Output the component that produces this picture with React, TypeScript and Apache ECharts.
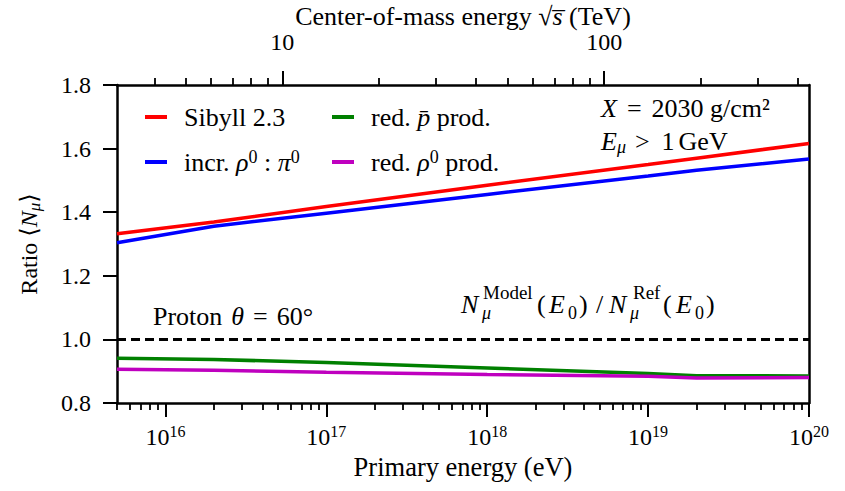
import React, { useEffect, useRef } from "react";
import * as echarts from "echarts";

// ---------- data ----------
const energiesEV = [5e15, 2e16, 1e17, 1e18, 1e19, 2e19, 1e20];
const sibyll23 = [1.332, 1.369, 1.418, 1.485, 1.55, 1.57, 1.616];
const incrRho0Pi0 = [1.304, 1.356, 1.397, 1.456, 1.514, 1.532, 1.567];
const redPbarProd = [0.941, 0.937, 0.927, 0.91, 0.893, 0.886, 0.885];
const redRho0Prod = [0.906, 0.903, 0.897, 0.89, 0.884, 0.879, 0.88];
const referenceRatio = 1.0;

const xMinEV = 5e15;
const xMaxEV = 1e20;
const bottomMajorExponents = [16, 17, 18, 19, 20];
const bottomMinorMultiples = [2, 3, 4, 5, 6, 7, 8, 9];
const topMajorTeV = [10, 100];
const topMinorTeV = [4, 5, 6, 7, 8, 9, 20, 30, 40, 50, 60, 70, 80, 90, 200, 300, 400];
const yMin = 0.8;
const yMax = 1.8;
const yStep = 0.2;
const protonMassEV = 0.938272e9;

const F = "Liberation Serif, DejaVu Serif, serif";
const FS = 24; // tick labels
const FT = 26; // titles, legend, annotations

const lg = (e: number) => Math.log10(e);
const teVToLogE = (t: number) => Math.log10(((t * 1e12) ** 2) / (2 * protonMassEV));

const bottomMinor: number[] = [];
for (let d = 15; d < 20; d++) {
  for (const m of bottomMinorMultiples) {
    const v = lg(m * Math.pow(10, d));
    if (v >= lg(xMinEV) - 1e-9 && v <= lg(xMaxEV) + 1e-9) bottomMinor.push(v);
  }
}

const K = "#000";
const richBase: any = {
  t: { fontFamily: F, fontSize: FS, lineHeight: 28, color: K },
  tsup: { fontFamily: F, fontSize: 16, lineHeight: 16, verticalAlign: "top", color: K },
  r: { fontFamily: F, fontSize: FT, lineHeight: 28, color: K },
  i: { fontFamily: F, fontSize: FT, fontStyle: "italic", lineHeight: 28, color: K },
  h: { fontFamily: F, fontSize: FT, lineHeight: 26, color: K },
  hi: { fontFamily: F, fontSize: FT, fontStyle: "italic", lineHeight: 26, color: K },
  sup: { fontFamily: F, fontSize: 18, lineHeight: 17, verticalAlign: "top", color: K },
  subi: { fontFamily: F, fontSize: 18, fontStyle: "italic", lineHeight: 22, verticalAlign: "bottom", color: K },
  gap: { width: 12 },
  s4: { width: 4 },
  s9: { width: 9 },
  s10: { width: 10 },
  s12: { width: 12 },
  y: { fontFamily: F, fontSize: FS, lineHeight: 28, color: K },
  yi: { fontFamily: F, fontSize: FS, fontStyle: "italic", lineHeight: 28, color: K },
  ysub: { fontFamily: F, fontSize: 17, fontStyle: "italic", lineHeight: 20, verticalAlign: "bottom", color: K },
};

// stacked-script annotation N^Model_mu(E_0) / N^Ref_mu(E_0): three lines with fixed-width tokens
const w = (n: number, s: any = {}) => ({ width: n, align: "left", ...s });
const L1 = { fontFamily: F, fontSize: 19, lineHeight: 9, color: K };
const L2 = { fontFamily: F, fontSize: FT, lineHeight: 14, color: K };
const L2i = { ...L2, fontStyle: "italic" };
const L3 = { fontFamily: F, fontSize: 18, lineHeight: 3, color: K };
const L3i = { ...L3, fontStyle: "italic" };
const ratioRich: any = {
  a0: w(22, { lineHeight: 9 }),
  aM: w(150, L1),
  aR: w(40, L1),
  bN: w(21, L2i),
  bS: w(55, { lineHeight: 14 }),
  bP: w(12, L2),
  bE: w(30, L2i),
  bC: w(17, L2),
  bD: w(13, L2),
  bN2: w(22, L2i),
  bS2: w(32, { lineHeight: 14 }),
  bP2: w(13, L2),
  bE2: w(30, L2i),
  bC2: w(12, L2),
  c0: w(21, { lineHeight: 3 }),
  cM: w(86, L3i),
  cZ: w(62, L3),
  cM2: w(65, L3i),
  cZ2: w(12, L3),
};
const ratioText =
  "{a0|}{aM|Model}{aR|Ref}\n" +
  "{bN|N}{bS|}{bP|(}{bE|E}{bC|)}{bD|/}{bN2|N}{bS2|}{bP2|(}{bE2|E}{bC2|)}\n" +
  "{c0|}{cM|μ}{cZ|0}{cM2|μ}{cZ2|0}";

const legendText: Record<string, string> = {
  "Sibyll 2.3": "{gap|}{r|Sibyll 2.3}",
  "incr. ρ0 : π0": "{gap|}{r|incr. }{i|ρ}{sup|0}{r| : }{i|π}{sup|0}",
  "red. p̄ prod.": "{gap|}{r|red. }{i|p\u0304}{r| prod.}",
  "red. ρ0 prod.": "{gap|}{r|red. }{i|ρ}{sup|0}{r| prod.}",
};

export default function App() {
  const ref = useRef<HTMLDivElement>(null);
  useEffect(() => {
    if (!ref.current) return;
    const chart = echarts.init(ref.current, null, { renderer: "svg" });
    const xmin = lg(xMinEV);
    const xmax = lg(xMaxEV);
    const mk = (vals: number[]) => energiesEV.map((e, k) => [lg(e), vals[k]]);
    const lineSeries = (name: string, vals: number[], color: string, extra: any = {}) => ({
      type: "line",
      name,
      data: mk(vals),
      symbol: "none",
      lineStyle: { color, width: 3.5 },
      itemStyle: { color },
      xAxisIndex: 0,
      yAxisIndex: 0,
      z: 3,
      ...extra,
    });
    const axisCommon = {
      type: "value",
      min: xmin,
      max: xmax,
      splitLine: { show: false },
      axisLine: { show: false, onZero: false },
    };
    const spine = { show: true, onZero: false, lineStyle: { color: K, width: 2.5 } };
    const option: any = {
      animation: false,
      backgroundColor: "#fff",
      grid: { left: 117, right: 36, top: 85, bottom: 88, show: false, containLabel: false, outerBoundsMode: "none" },
      xAxis: [
        {
          ...axisCommon,
          position: "bottom",
          axisLine: spine,
          axisTick: { show: true, customValues: bottomMajorExponents, length: 14, lineStyle: { color: K, width: 2 } },
          axisLabel: {
            show: true,
            customValues: bottomMajorExponents,
            margin: 20,
            formatter: (v: number) => `{t|10}{tsup|${Math.round(v)}}`,
            rich: richBase,
          },
          name: "Primary energy (eV)",
          nameLocation: "middle",
          nameGap: 49,
          nameTextStyle: { fontFamily: F, fontSize: 26.5, color: K },
        },
        {
          ...axisCommon,
          position: "bottom",
          axisTick: { show: true, customValues: bottomMinor, length: 7, lineStyle: { color: K, width: 1.8 } },
          axisLabel: { show: false },
        },
        {
          ...axisCommon,
          position: "top",
          axisLine: spine,
          axisTick: { show: true, customValues: topMajorTeV.map(teVToLogE), length: 14, lineStyle: { color: K, width: 2 } },
          axisLabel: {
            show: true,
            customValues: topMajorTeV.map(teVToLogE),
            margin: 31,
            formatter: (v: number) => String(Math.round(Math.sqrt(Math.pow(10, v) * 2 * protonMassEV) / 1e12)),
            fontFamily: F,
            fontSize: FS,
            color: K,
          },
        },
        {
          ...axisCommon,
          position: "top",
          axisTick: { show: true, customValues: topMinorTeV.map(teVToLogE), length: 7, lineStyle: { color: K, width: 1.8 } },
          axisLabel: { show: false },
        },
      ],
      yAxis: [
        {
          type: "value",
          min: yMin,
          max: yMax,
          interval: yStep,
          position: "left",
          splitLine: { show: false },
          axisLine: spine,
          axisTick: { show: true, length: 14, lineStyle: { color: K, width: 2 } },
          axisLabel: { margin: 26, formatter: (v: number) => v.toFixed(1), fontFamily: F, fontSize: FS, color: K },
          name: "{y|Ratio }{y|⟨}{yi|N}{ysub|μ}{y|⟩}",
          nameLocation: "middle",
          nameRotate: 90,
          nameGap: 74,
          nameTextStyle: { rich: richBase },
        },
        {
          type: "value",
          min: yMin,
          max: yMax,
          position: "right",
          splitLine: { show: false },
          axisLine: spine,
          axisTick: { show: false },
          axisLabel: { show: false },
        },
      ],
      legend: [
        {
          data: ["Sibyll 2.3", "incr. ρ0 : π0"],
          orient: "vertical",
          left: 140,
          top: 99,
          itemWidth: 22,
          itemHeight: 4,
          itemGap: 18,
          icon: "rect",
          formatter: (n: string) => legendText[n],
          textStyle: { rich: richBase },
        },
        {
          data: ["red. p̄ prod.", "red. ρ0 prod."],
          orient: "vertical",
          left: 327,
          top: 99,
          itemWidth: 22,
          itemHeight: 4,
          itemGap: 18,
          icon: "rect",
          formatter: (n: string) => legendText[n],
          textStyle: { rich: richBase },
        },
      ],
      series: [
        lineSeries("Sibyll 2.3", sibyll23, "#ff0000", {
          markLine: {
            silent: true,
            symbol: ["none", "none"],
            label: { show: false },
            lineStyle: { color: K, width: 3, type: [9, 5] },
            data: [{ yAxis: referenceRatio }],
          },
        }),
        lineSeries("incr. ρ0 : π0", incrRho0Pi0, "#0000ff"),
        lineSeries("red. p̄ prod.", redPbarProd, "#008000"),
        lineSeries("red. ρ0 prod.", redRho0Prod, "#bf00bf"),
      ],
      graphic: [
        {
          type: "text",
          x: 463,
          y: 16,
          style: {
            text: "{h|Center-of-mass energy }{h|√}{hi|s\u0305}{h| (TeV)}",
            rich: richBase,
            align: "center",
            verticalAlign: "middle",
          },
        },
        {
          type: "text",
          x: 601,
          y: 94.5,
          style: { text: "{i|X}{s10|}{r|=}{s10|}{r|2030 g/cm²}", rich: richBase, align: "left", verticalAlign: "top" },
        },
        {
          type: "text",
          x: 601,
          y: 127.5,
          style: { text: "{i|E}{subi|μ}{s9|}{r|>}{s12|}{r|1}{s4|}{r|GeV}", rich: richBase, align: "left", verticalAlign: "top" },
        },
        {
          type: "text",
          x: 153,
          y: 302.5,
          style: { text: "{r|Proton}{s9|}{i|θ}{s9|}{r|=}{s9|}{r|60°}", rich: richBase, align: "left", verticalAlign: "top" },
        },
        {
          type: "text",
          x: 461,
          y: 288,
          style: { text: ratioText, rich: ratioRich, align: "left", verticalAlign: "top" },
        },
      ],
    };
    chart.setOption(option);
    return () => chart.dispose();
  }, []);
  return <div ref={ref} style={{ width: 845, height: 491, position: "absolute", left: 0, top: 0 }} />;
}
